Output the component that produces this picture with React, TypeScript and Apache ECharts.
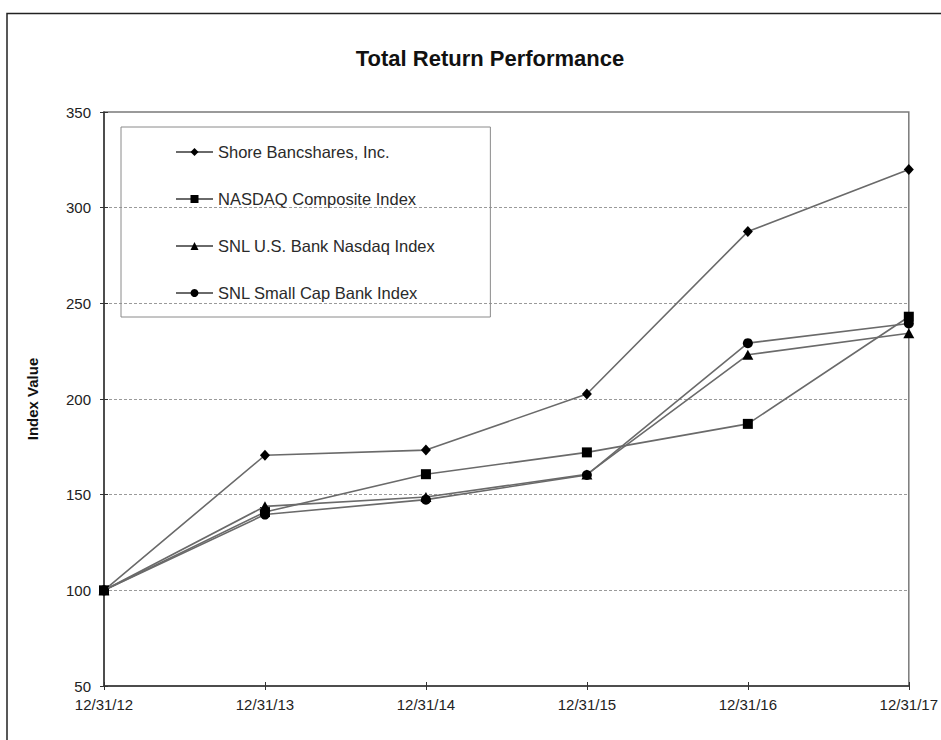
import React, { useEffect, useRef } from "react";
import * as echarts from "echarts";

const categories = ["12/31/12", "12/31/13", "12/31/14", "12/31/15", "12/31/16", "12/31/17"];
const shoreBancshares = [100, 170.6, 173.3, 202.6, 287.5, 320.0];
const nasdaqComposite = [100, 140.9, 160.7, 172.1, 187.0, 243.0];
const snlBankNasdaq = [100, 143.9, 148.8, 160.6, 223.1, 234.4];
const snlSmallCap = [100, 139.6, 147.4, 160.3, 229.2, 239.5];
const seriesNames = [
  "Shore Bancshares, Inc.",
  "NASDAQ Composite Index",
  "SNL U.S. Bank Nasdaq Index",
  "SNL Small Cap Bank Index",
];
const seriesSymbols = ["diamond", "rect", "triangle", "circle"];
const seriesValues = [shoreBancshares, nasdaqComposite, snlBankNasdaq, snlSmallCap];
const yMin = 50;
const yMax = 350;
const yInterval = 50;

const FONT = "'Liberation Sans', Arial, sans-serif";

export default function App() {
  const ref = useRef<HTMLDivElement>(null);
  useEffect(() => {
    if (!ref.current) return;
    const chart = echarts.init(ref.current, undefined, { renderer: "svg" });
    const lineColor = "#6a6a6a";
    const option: any = {
      animation: false,
      backgroundColor: "#ffffff",
      title: {
        text: "Total Return Performance",
        left: 485,
        top: 42,
        textAlign: "center",
        textStyle: { fontFamily: FONT, fontSize: 22, fontWeight: "bold", color: "#111" },
      },
      graphic: [
        {
          type: "rect",
          shape: { x: 7, y: 13.5, width: 1000, height: 1000 },
          style: { fill: "none", stroke: "#222", lineWidth: 1.5 },
          silent: true,
        },
      ],
      legend: {
        orient: "vertical",
        left: 121,
        top: 127,
        data: seriesNames,
        itemWidth: 37,
        itemHeight: 10,
        itemGap: 29,
        padding: [16, 55, 15, 54],
        borderColor: "#8a8a8a",
        borderWidth: 1,
        textStyle: { fontFamily: FONT, fontSize: 16.5, lineHeight: 18, color: "#2a2a2a" },
      },
      grid: {
        left: 104,
        right: 32,
        top: 112,
        bottom: 54,
        show: true,
        borderColor: "#7a7a7a",
        borderWidth: 1.5,
      },
      xAxis: [
        {
          type: "category",
          data: categories,
          boundaryGap: false,
          position: "bottom",
          axisLine: { onZero: false, lineStyle: { color: "#333", width: 1.5 } },
          axisTick: { show: true, length: 4, inside: false, lineStyle: { color: "#333" } },
          axisLabel: { fontFamily: FONT, fontSize: 15, color: "#222", margin: 11 },
          splitLine: { show: false },
        },
        {
          type: "category",
          data: categories,
          boundaryGap: false,
          position: "bottom",
          axisLine: { show: false, onZero: false },
          axisTick: { show: true, length: 4, inside: true, lineStyle: { color: "#333" } },
          axisLabel: { show: false },
          splitLine: { show: false },
        },
      ],
      yAxis: [
        {
          type: "value",
          min: yMin,
          max: yMax,
          interval: yInterval,
          position: "left",
          name: "Index Value",
          nameLocation: "middle",
          nameGap: 64,
          nameTextStyle: { fontFamily: FONT, fontSize: 15, fontWeight: "bold", color: "#111" },
          axisLine: { show: true, onZero: false, lineStyle: { color: "#333", width: 1.5 } },
          axisTick: { show: true, length: 4, inside: false, lineStyle: { color: "#333" } },
          axisLabel: { fontFamily: FONT, fontSize: 15, color: "#222", margin: 13 },
          splitLine: { show: true, lineStyle: { color: "#9a9a9a", type: [3, 2], width: 1 } },
        },
        {
          type: "value",
          min: yMin,
          max: yMax,
          interval: yInterval,
          position: "left",
          axisLine: { show: false, onZero: false },
          axisTick: { show: true, length: 4, inside: true, lineStyle: { color: "#333" } },
          axisLabel: { show: false },
          splitLine: { show: false },
        },
      ],
      series: seriesValues.map((vals, i) => ({
        name: seriesNames[i],
        type: "line",
        xAxisIndex: 0,
        yAxisIndex: 0,
        data: vals,
        symbol: seriesSymbols[i],
        symbolSize: i === 0 ? [10, 11] : i === 1 ? 10 : i === 2 ? [11, 10] : 10,
        showAllSymbol: true,
        lineStyle: { color: lineColor, width: 1.6 },
        itemStyle: { color: "#000", borderWidth: 0 },
        z: 3 + i,
      })),
    };
    chart.setOption(option);
    return () => chart.dispose();
  }, []);
  return (
    <div
      ref={ref}
      style={{ position: "fixed", left: 0, top: 0, width: 941, height: 740, background: "#fff" }}
    />
  );
}
